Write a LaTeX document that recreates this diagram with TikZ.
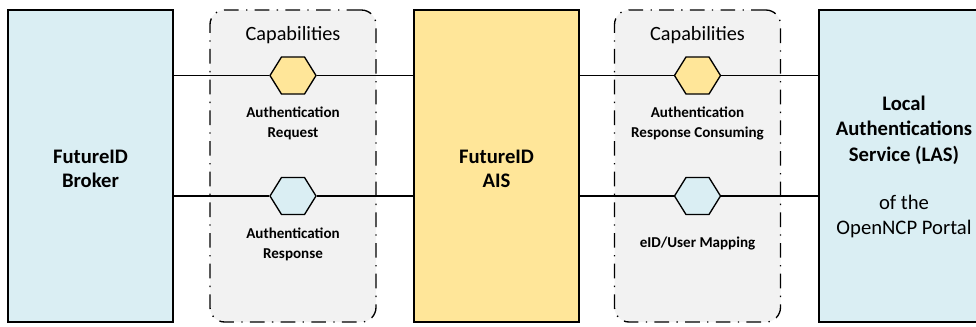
\documentclass[tikz,border=0pt]{standalone}
\usepackage{fontspec}
\setmainfont{Carlito}
\usetikzlibrary{shapes.geometric}
\definecolor{boxblue}{RGB}{218,238,243}
\definecolor{boxyellow}{RGB}{255,230,153}
\definecolor{capgray}{RGB}{242,242,242}
\tikzset{
  sysbox/.style={draw=black, line width=1.3pt, minimum width=123.75pt, minimum height=234pt, inner sep=0pt},
  capbox/.style={draw=black, fill=capgray, line width=1pt, rounded corners=11pt,
    dash pattern=on 11pt off 5.5pt on 1pt off 5.5pt, minimum width=124.5pt, minimum height=234pt, inner sep=0pt},
  hexa/.style={draw=black, line width=1pt, regular polygon, regular polygon sides=6,
    minimum size=34.5pt, inner sep=0pt, yscale=0.93, transform shape},
  link/.style={draw=black, line width=1pt},
  captitle/.style={font=\fontsize{15.2}{18}\selectfont},
  smalllbl/.style={font=\fontsize{11.3}{15}\selectfont\bfseries, align=center},
}
\begin{document}
\begin{tikzpicture}[x=0.75pt, y=-0.75pt]
\useasboundingbox (0,0) rectangle (976,326);
\clip (0,0) rectangle (976,326);
% capability containers
\node[capbox] (capL) at (293,166) {};
\node[capbox] (capR) at (697.5,166) {};
\node[captitle] (capLt) at (293,35) {Capabilities};
\node[captitle] (capRt) at (697.5,35) {Capabilities};
% systems
\node[sysbox, fill=boxblue] (broker) at (90.5,166) {};
\node[sysbox, fill=boxyellow] (ais) at (496.5,166) {};
\node[sysbox, fill=boxblue, minimum width=124.5pt] (las) at (902,166) {};
\node[align=center, font=\fontsize{15.5}{18}\selectfont\bfseries] (brokert) at (90.5,169) {FutureID\\Broker};
\node[align=center, font=\fontsize{15.5}{18}\selectfont\bfseries] (aist) at (496.5,169) {FutureID\\AIS};
\node[align=center, font=\fontsize{15.5}{19}\selectfont] (last) at (904,167) {\textbf{Local}\\\textbf{Authentications}\\\textbf{Service (LAS)}\\[17pt]of the\\OpenNCP Portal};
% hexagons
\node[hexa, fill=boxyellow] (h1) at (293,75.5) {};
\node[hexa, fill=boxblue] (h2) at (293,196) {};
\node[hexa, fill=boxyellow] (h3) at (697.5,75.5) {};
\node[hexa, fill=boxblue] (h4) at (697.5,196) {};
% labels
\node[smalllbl] (l1) at (293,123) {Authentication\\Request};
\node[smalllbl] (l2) at (293,244) {Authentication\\Response};
\node[smalllbl] (l3) at (697.5,123) {Authentication\\Response Consuming};
\node[smalllbl] (l4) at (697.5,243) {eID/User Mapping};
% connectors
\draw[link] (broker.east |- h1.west) -- (h1.west);
\draw[link] (h1.east) -- (ais.west |- h1.east);
\draw[link] (broker.east |- h2.west) -- (h2.west);
\draw[link] (h2.east) -- (ais.west |- h2.east);
\draw[link] (ais.east |- h3.west) -- (h3.west);
\draw[link] (h3.east) -- (las.west |- h3.east);
\draw[link] (ais.east |- h4.west) -- (h4.west);
\draw[link] (h4.east) -- (las.west |- h4.east);
\end{tikzpicture}
\end{document}
